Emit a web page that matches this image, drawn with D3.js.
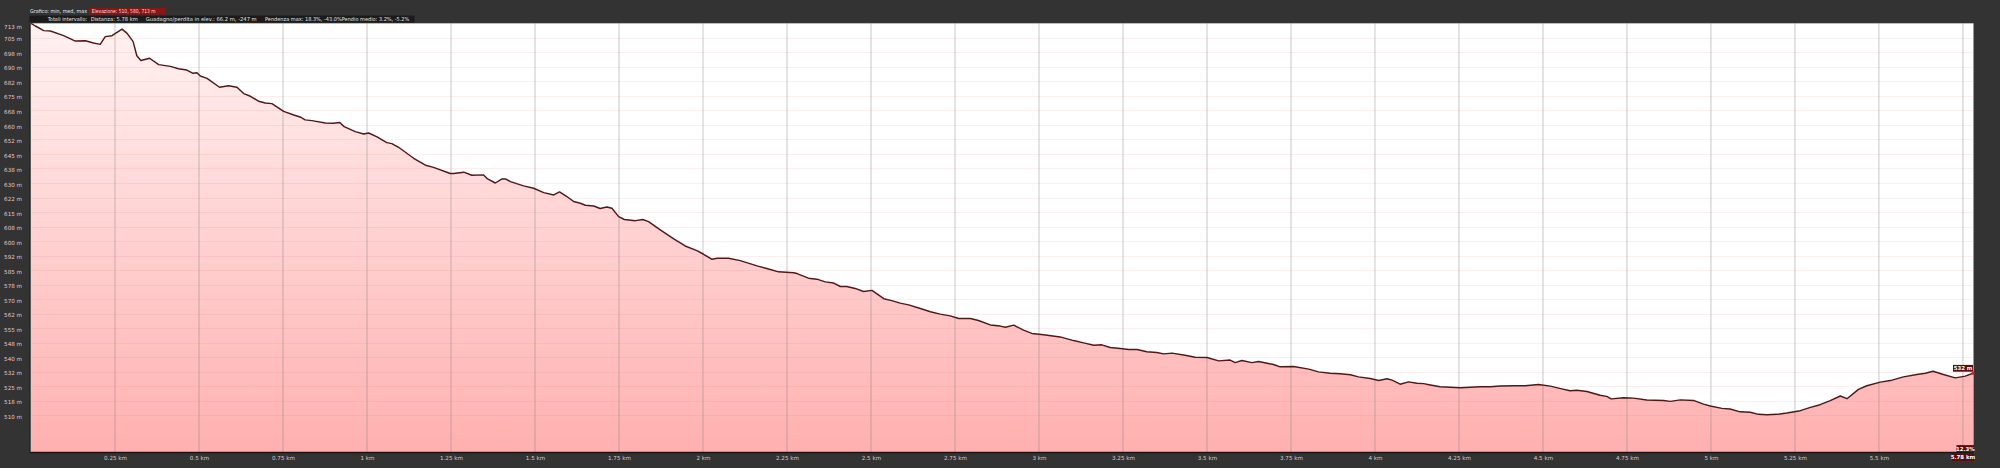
<!DOCTYPE html>
<html><head><meta charset="utf-8">
<script src="https://cdn.jsdelivr.net/npm/d3@7/dist/d3.min.js"></script>
<style>html,body{margin:0;padding:0;background:#333333;}svg{display:block;}</style>
</head><body>
<svg id="chart" width="2000" height="468"></svg>
<script>
const distKm = [0,0.013,0.038,0.058,0.097,0.132,0.162,0.186,0.206,0.221,0.241,0.271,0.286,0.304,0.315,0.327,0.353,0.380,0.415,0.439,0.464,0.482,0.494,0.504,0.524,0.561,0.588,0.613,0.633,0.653,0.678,0.697,0.717,0.752,0.782,0.801,0.816,0.836,0.876,0.900,0.919,0.932,0.965,0.990,1.005,1.030,1.059,1.074,1.094,1.139,1.174,1.198,1.248,1.258,1.288,1.312,1.347,1.359,1.382,1.402,1.412,1.427,1.466,1.496,1.526,1.556,1.573,1.595,1.615,1.635,1.650,1.675,1.694,1.714,1.729,1.749,1.766,1.799,1.821,1.838,1.873,1.913,1.947,1.982,2.002,2.027,2.042,2.076,2.111,2.161,2.190,2.225,2.270,2.280,2.314,2.339,2.364,2.389,2.409,2.428,2.453,2.478,2.503,2.518,2.538,2.562,2.587,2.612,2.647,2.677,2.706,2.736,2.761,2.796,2.820,2.855,2.885,2.900,2.925,2.954,2.979,3.014,3.063,3.103,3.133,3.163,3.187,3.212,3.242,3.267,3.292,3.321,3.351,3.371,3.396,3.435,3.465,3.500,3.535,3.569,3.584,3.604,3.634,3.654,3.679,3.698,3.718,3.758,3.803,3.832,3.867,3.897,3.927,3.951,3.986,4.011,4.036,4.051,4.075,4.100,4.125,4.145,4.165,4.194,4.224,4.254,4.284,4.313,4.343,4.373,4.413,4.447,4.487,4.522,4.556,4.581,4.601,4.631,4.670,4.690,4.703,4.740,4.770,4.809,4.859,4.879,4.909,4.948,4.978,4.998,5.033,5.057,5.087,5.117,5.142,5.167,5.196,5.226,5.266,5.296,5.325,5.355,5.385,5.405,5.439,5.464,5.504,5.539,5.573,5.613,5.638,5.661,5.692,5.727,5.757,5.78];
const elevM = [713,711.6,709.2,709.0,706.6,703.8,704.0,702.8,702.1,706.1,706.6,710.0,707.8,703.5,696.2,693.7,694.9,691.6,690.7,689.5,688.8,687.1,687.4,685.7,684.5,679.9,680.7,679.9,676.6,675.2,672.6,671.7,671.4,667.4,665.5,664.5,663.0,662.6,661.4,661.2,661.6,659.5,656.9,655.7,656.2,654.2,651.2,650.7,648.8,643.1,639.5,638.4,635.2,635.2,635.9,634.3,634.5,632.4,630.3,632.4,632.4,631.0,628.8,627.6,625.3,624.1,625.7,623.3,620.7,619.8,618.8,618.4,617.1,617.9,617.2,612.9,611.4,610.8,611.4,610.3,606.0,601.4,597.7,595.3,593.4,590.8,591.3,591.3,590.1,587.4,586.0,584.3,583.8,583.4,581.0,580.5,579.1,578.5,576.7,576.7,575.7,574.1,574.7,572.9,570.4,569.4,568.1,567.2,565.3,563.6,562.4,561.5,560.1,560.1,559.1,556.8,556.2,555.6,556.7,554.1,552.4,551.7,550.6,548.7,547.5,546.3,546.5,545.1,544.6,544.1,544.1,542.9,542.5,541.8,542.2,541.1,540.1,539.9,538.2,538.6,537.3,538.4,537.3,537.9,537.0,536.3,535.1,535.3,533.9,532.5,531.8,531.5,531.0,529.9,529.1,528.0,528.9,528.2,526.1,527.3,526.6,526.4,525.7,524.8,524.5,524.3,524.5,524.8,524.8,525.2,525.3,525.3,526.0,525.1,523.7,522.7,523.0,522.3,520.4,519.8,518.5,519.1,518.9,517.9,517.7,517.2,518.0,517.7,515.8,514.8,513.6,513.3,511.8,511.6,510.5,510.3,510.5,511.2,512.4,514.1,515.5,517.6,520.0,518.6,523.4,525.3,527.2,528.2,529.9,531.1,531.8,532.8,531.1,529.4,530.3,531.8];
const yTickLabels = ["713 m","705 m","698 m","690 m","682 m","675 m","668 m","660 m","652 m","645 m","638 m","630 m","622 m","615 m","608 m","600 m","592 m","585 m","578 m","570 m","562 m","555 m","548 m","540 m","532 m","525 m","518 m","510 m"];
const xTickValues = [0.25,0.5,0.75,1,1.25,1.5,1.75,2,2.25,2.5,2.75,3,3.25,3.5,3.75,4,4.25,4.5,4.75,5,5.25,5.5,5.75];
const xTickLabels = ["0.25 km","0.5 km","0.75 km","1 km","1.25 km","1.5 km","1.75 km","2 km","2.25 km","2.5 km","2.75 km","3 km","3.25 km","3.5 km","3.75 km","4 km","4.25 km","4.5 km","4.75 km","5 km","5.25 km","5.5 km",""];
const headerLine1 = ["Grafico: min, med, max","Elevazione: 510, 580, 713 m"];
const headerLine2 = ["Totali intervallo:","Distanza: 5.78 km","Guadagno/perdita in elev.: 66.2 m, -247 m","Pendenza max: 18.3%, -43.0%Pendio medio: 3.2%, -5.2%"];
const endLabels = {elev:"532 m", grade:"12.3%", dist:"5.78 km"};

const data = distKm.map((d,i)=>({d, e: elevM[i]}));
const svg = d3.select("#chart");
const L = 30.5, R = 1973.5, T = 23.3, B = 452;
const x = d3.scaleLinear().domain([0, 5.78]).range([31, 1973]);
const y = d3.scaleLinear().domain([491, 713]).range([B, T]);
const yTickVals = yTickLabels.map((s,i)=> 713 - i*(713-510)/27);

const defs = svg.append("defs");
const g1 = defs.append("linearGradient").attr("id","fillg").attr("gradientUnits","userSpaceOnUse")
  .attr("x1",0).attr("x2",0).attr("y1",T).attr("y2",B);
g1.append("stop").attr("offset","0%").attr("stop-color","#fff2f2");
g1.append("stop").attr("offset","100%").attr("stop-color","#ffb0b0");

svg.append("rect").attr("x",L).attr("y",T).attr("width",R-L).attr("height",B-T).attr("fill","#ffffff");

const area = d3.area().x(p=>x(p.d)).y0(B).y1(p=>y(p.e));
svg.append("path").datum(data).attr("d",area).attr("fill","url(#fillg)");

svg.append("g").selectAll("line").data(yTickVals).join("line")
  .attr("x1",L).attr("x2",R).attr("y1",v=>Math.round(y(v))+0.5).attr("y2",v=>Math.round(y(v))+0.5)
  .attr("stroke","rgba(220,120,120,0.13)").attr("stroke-width",1);

svg.append("g").selectAll("line").data(xTickValues).join("line")
  .attr("x1",v=>x(v)).attr("x2",v=>x(v)).attr("y1",T).attr("y2",B)
  .attr("stroke","rgba(120,120,120,0.32)").attr("stroke-width",1.3);

const line = d3.line().x(p=>x(p.d)).y(p=>y(p.e));
svg.append("path").datum(data).attr("d",line).attr("fill","none")
  .attr("stroke","#561616").attr("stroke-width",1.45).attr("stroke-linejoin","round");

svg.append("line").attr("x1",L).attr("x2",R).attr("y1",B+0.5).attr("y2",B+0.5).attr("stroke","#151515").attr("stroke-width",1.5);
svg.append("line").attr("x1",L-0.5).attr("x2",L-0.5).attr("y1",T).attr("y2",B+1).attr("stroke","#1c1c1c").attr("stroke-width",1);

const yAxis = d3.axisLeft(y).tickValues(yTickVals).tickSize(0).tickPadding(0)
  .tickFormat((v,i)=>yTickLabels[i]);
const gy = svg.append("g").attr("transform",`translate(${22},0)`).call(yAxis);
gy.select(".domain").remove();
gy.selectAll("text").attr("fill","#e7c6c6").attr("font-family","'DejaVu Sans', sans-serif")
  .attr("font-size","5.6px").attr("dy","0.55em")
  .attr("y",(v,i)=> i===0 ? 1.8 : 0);

const xAxis = d3.axisBottom(x).tickValues(xTickValues).tickSize(0).tickPadding(0)
  .tickFormat((v,i)=>xTickLabels[i]);
const gx = svg.append("g").attr("transform",`translate(0,${458})`).call(xAxis);
gx.select(".domain").remove();
gx.selectAll("text").attr("fill","#cfcfcf").attr("font-family","'DejaVu Sans', sans-serif")
  .attr("font-size","5.6px").attr("dy","0.3em");

const hf = "'DejaVu Sans', sans-serif";
svg.append("rect").attr("x",89.3).attr("y",8).attr("width",76.4).attr("height",6.5).attr("fill","#8e1313");
svg.append("text").attr("x",30).attr("y",13.3).attr("fill","#e8e8e8").attr("font-family",hf).attr("font-size","5.4px")
  .attr("textLength",57).attr("lengthAdjust","spacingAndGlyphs").text(headerLine1[0]);
svg.append("text").attr("x",91.7).attr("y",13.3).attr("fill","#f6dede").attr("font-family",hf).attr("font-size","5.4px")
  .attr("textLength",64).attr("lengthAdjust","spacingAndGlyphs").text(headerLine1[1]);
svg.append("rect").attr("x",29.5).attr("y",15.6).attr("width",385).attr("height",6.8).attr("fill","#1b1b1b");
const l2x = [47.7, 90.7, 145.7, 265], l2w = [39.5, 47, 111, 144.3];
headerLine2.forEach((s,i)=>{
  svg.append("text").attr("x",l2x[i]).attr("y",21).attr("fill","#e4e4e4").attr("font-family",hf).attr("font-size","5.4px")
    .attr("textLength",l2w[i]).attr("lengthAdjust","spacingAndGlyphs").text(s);
});

const last = data[data.length-1];
const ex = x(last.d), ey = y(last.e);
svg.append("circle").attr("cx",ex).attr("cy",ey).attr("r",1.6).attr("fill","#c0262b");
function box(xr, yc, w, txt){
  svg.append("rect").attr("x",xr-w).attr("y",yc-3.4).attr("width",w).attr("height",6.8).attr("fill","#5a0d0d");
  svg.append("text").attr("x",xr-w/2).attr("y",yc+2).attr("text-anchor","middle").attr("fill","#ffffff")
    .attr("font-family",hf).attr("font-size","5.4px").attr("font-weight","bold").text(txt);
}
box(1973, 368.3, 20, endLabels.elev);
box(1974, 448.5, 17.5, endLabels.grade);
box(1974, 457.3, 22, endLabels.dist);
</script>
</body></html>
